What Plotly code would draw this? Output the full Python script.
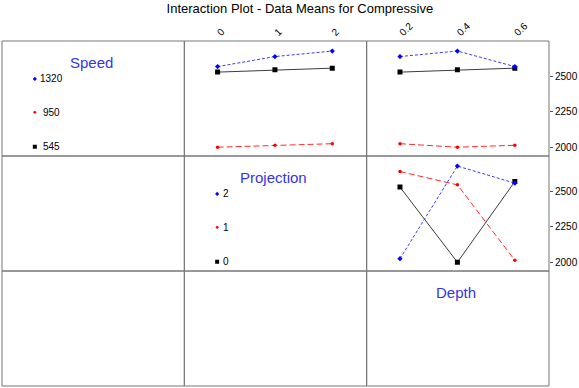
import plotly.graph_objects as go

# ---------------- data ----------------
speed_levels = ["1320", "950", "545"]
projection_levels = ["2", "1", "0"]
projection_x = [0, 1, 2]
depth_x = [0.2, 0.4, 0.6]
y_ticks = [2000, 2250, 2500]

# Speed x Projection means
speed_proj_545 = [2531, 2547, 2559]
speed_proj_950 = [2000, 2014, 2025]
speed_proj_1320 = [2570, 2641, 2680]
# Speed x Depth means
speed_depth_545 = [2531, 2547, 2559]
speed_depth_950 = [2025, 2000, 2014]
speed_depth_1320 = [2641, 2680, 2570]
# Projection x Depth means
proj_depth_0 = [2531, 2000, 2570]
proj_depth_1 = [2641, 2547, 2014]
proj_depth_2 = [2025, 2680, 2559]

# ---------------- styles ----------------
FONT = "Liberation Sans, Arial, sans-serif"
HEAD = "#3535e6"
styles = {
    "black": dict(line=dict(color="#3c3c3c", width=1, dash="solid"),
                  marker=dict(color="#000000", size=5, symbol="square")),
    "red": dict(line=dict(color="#ff2a2a", width=1, dash="6px,3px"),
                marker=dict(color="#ff0000", size=3.5, symbol="circle")),
    "blue": dict(line=dict(color="#3a3aff", width=1, dash="3px,2px"),
                 marker=dict(color="#0000ff", size=4, symbol="diamond")),
}

fig = go.Figure()

cols = [[0, 1/3], [1/3, 2/3], [2/3, 1]]
rows = [[2/3, 1], [1/3, 2/3], [0, 1/3]]


def add(xs, ys, style, ax):
    s = styles[style]
    fig.add_trace(go.Scatter(x=xs, y=ys, mode="lines+markers", line=s["line"],
                             marker=s["marker"], xaxis="x" + ax, yaxis="y" + ax,
                             showlegend=False, hoverinfo="skip"))

# panel row1 col2 : Speed vs Projection
add(projection_x, speed_proj_545, "black", "2")
add(projection_x, speed_proj_950, "red", "2")
add(projection_x, speed_proj_1320, "blue", "2")
# panel row1 col3 : Speed vs Depth
add(depth_x, speed_depth_545, "black", "3")
add(depth_x, speed_depth_950, "red", "3")
add(depth_x, speed_depth_1320, "blue", "3")
# panel row2 col3 : Projection vs Depth
add(depth_x, proj_depth_0, "black", "5")
add(depth_x, proj_depth_1, "red", "5")
add(depth_x, proj_depth_2, "blue", "5")

# legend panels on the diagonal
legend_styles = ["blue", "red", "black"]
legend_y = [0.67, 0.38, 0.08]


def legend(ax, labels, text_x):
    for lab, st, yy in zip(labels, legend_styles, legend_y):
        m = dict(styles[st]["marker"])
        m["size"] = m["size"] * 0.8
        fig.add_trace(go.Scatter(x=[0.18], y=[yy], mode="markers", marker=m,
                                 xaxis="x" + ax, yaxis="y" + ax, showlegend=False,
                                 hoverinfo="skip"))
        fig.add_annotation(x=text_x, y=yy, xref="x" + ax, yref="y" + ax, text=lab,
                           showarrow=False, xanchor="center", yanchor="middle",
                           font=dict(family=FONT, size=10, color="black"))

legend("1", speed_levels, 0.27)
legend("4", projection_levels, 0.23)

for ax, title in [("1", "Speed"), ("4", "Projection"), ("6", "Depth")]:
    fig.add_annotation(x=0.49, y=0.81, xref="x" + ax, yref="y" + ax, text=title,
                       showarrow=False, xanchor="center", yanchor="middle",
                       font=dict(family=FONT, size=15, color=HEAD))

# ---------------- axes ----------------
hidden = dict(showgrid=False, zeroline=False, showticklabels=False, ticks="",
              showline=False, fixedrange=True)
layout_axes = {}
panel_map = {"1": (0, 0), "2": (0, 1), "3": (0, 2), "4": (1, 1), "5": (1, 2), "6": (2, 2)}
for ax, (r, c) in panel_map.items():
    xk = "xaxis" if ax == "1" else "xaxis" + ax
    yk = "yaxis" if ax == "1" else "yaxis" + ax
    layout_axes[xk] = dict(hidden, domain=cols[c], anchor="y" + ax, range=[0, 1])
    layout_axes[yk] = dict(hidden, domain=rows[r], anchor="x" + ax, range=[0, 1])

yrange = [1938, 2751]
xr_proj = [-0.58, 2.6]
xr_depth = [0.084, 0.719]
layout_axes["xaxis2"].update(range=xr_proj, side="top", showticklabels=True,
                             tickvals=projection_x, ticktext=[str(v) for v in projection_x],
                             tickangle=-45, tickfont=dict(family=FONT, size=10, color="black"))
layout_axes["xaxis3"].update(range=xr_depth, side="top", showticklabels=True,
                             tickvals=depth_x, ticktext=[str(v) for v in depth_x],
                             tickangle=-45, tickfont=dict(family=FONT, size=10, color="black"))
layout_axes["xaxis5"].update(range=xr_depth)
layout_axes["yaxis2"].update(range=yrange)
for yk in ["yaxis3", "yaxis5"]:
    layout_axes[yk].update(range=yrange, side="right", showticklabels=True,
                           tickvals=y_ticks, ticks="outside", ticklen=3, tickcolor="#555555",
                           tickfont=dict(family=FONT, size=10, color="black"))

fig.update_layout(**layout_axes)

# panel borders
shapes = []
for c in cols:
    for r in rows:
        shapes.append(dict(type="rect", xref="paper", yref="paper", x0=c[0], x1=c[1],
                           y0=r[0], y1=r[1], line=dict(color="#777777", width=1)))

fig.update_layout(
    width=579, height=388,
    margin=dict(l=2, r=30, t=41, b=2),
    paper_bgcolor="white", plot_bgcolor="white",
    shapes=shapes,
    title=dict(text="Interaction Plot - Data Means for Compressive", x=0.518,
               xanchor="center", y=0.99, yanchor="top",
               font=dict(family=FONT, size=13, color="black")),
    showlegend=False,
)

fig.write_html("out.html", config={"displayModeBar": False, "staticPlot": True},
               post_script="document.body.style.margin='0';document.body.style.overflow='hidden';")
